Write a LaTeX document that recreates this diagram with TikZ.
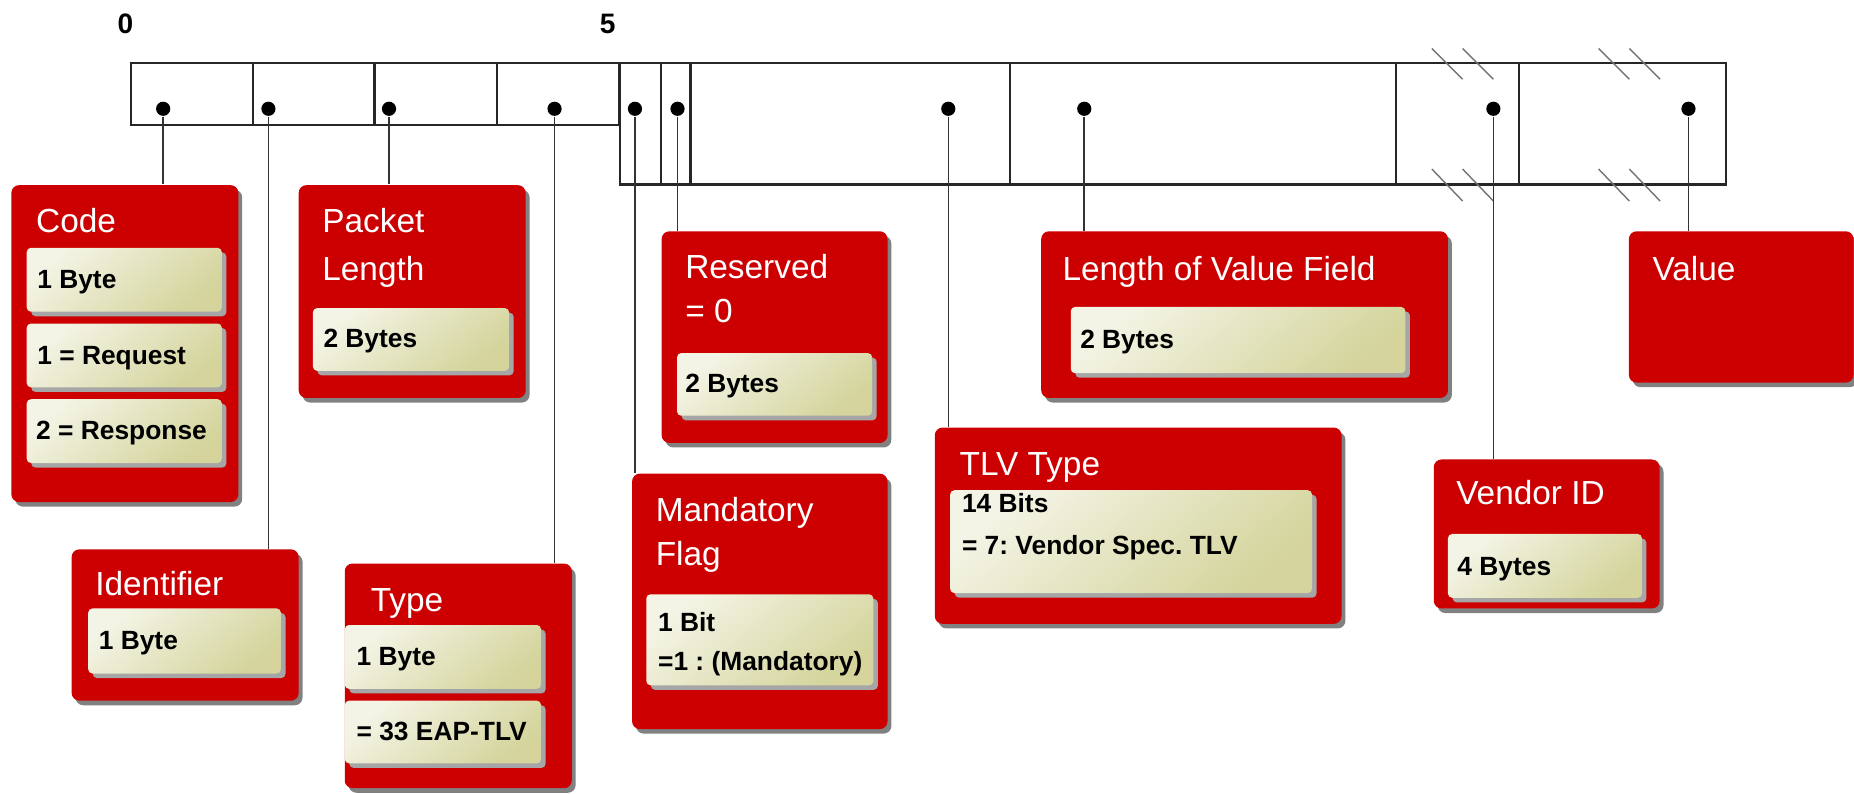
\documentclass[tikz,border=0pt]{standalone}
\usepackage{fontspec}
\setmainfont{Liberation Sans}
\usetikzlibrary{shadows}

\definecolor{fieldred}{HTML}{CC0000}
\definecolor{creamtop}{HTML}{F4F4E6}
\definecolor{creambottom}{HTML}{D4D49C}
\newcommand{\pxu}{0.011824cm}

\begin{document}
\begin{tikzpicture}[x=\pxu, y=-\pxu,
  field/.style={fill=fieldred, rounded corners=2.2pt, inner sep=0pt, anchor=north west,
    drop shadow={shadow xshift=1.1pt, shadow yshift=-1.3pt, fill=black!70, opacity=0.7}},
  cell/.style={top color=creamtop, bottom color=creambottom, shading angle=40,
    rounded corners=1.2pt, inner sep=0pt, anchor=north west,
    drop shadow={shadow xshift=1.3pt, shadow yshift=-1.3pt, fill=black!35, opacity=1}},
  dims/.style 2 args={minimum width=#1*\pxu, minimum height=#2*\pxu},
  title/.style={anchor=base west, inner sep=0pt, text=white, align=left,
    font=\fontsize{9.5}{12.5}\selectfont},
  entry/.style={anchor=base west, inner sep=0pt, align=left,
    font=\frenchspacing\bfseries\fontsize{7.5}{11}\selectfont},
  dot/.style={circle, fill=black, inner sep=0pt, minimum size=12*\pxu},
  frame/.style={draw=black!85, line width=0.6pt},
  link/.style={draw=black!80, line width=0.45pt},
  hatch/.style={draw=black!55, line width=0.4pt},
  bitno/.style={font=\bfseries\fontsize{8}{10}\selectfont, inner sep=0pt}]
\useasboundingbox (0,0) rectangle (1568,671);

%bit numbers
\node[bitno] (bit0) at (106,20) {0};
\node[bitno] (bit5) at (514,20) {5};

%header
\draw[frame] (111,53) rectangle (524,106);
\draw[frame] (214,53) -- (214,106);
\draw[frame, line width=0.9pt] (317,53) -- (317,106);
\draw[frame] (420,53) -- (420,106);
%tlv
\draw[frame] (524,53) rectangle (1460,156);
\draw[frame, line width=0.9pt] (524,53) -- (524,106);
\foreach \x in {559,584,854,1181,1285}
  \draw[frame] (\x,53) -- (\x,156);
%cut marks
\foreach \x in {1211,1237,1352,1378}{
  \draw[hatch] (\x,41) -- ++(26,26);
  \draw[hatch] (\x,143) -- ++(26,27);
}

%field points
\node[dot] (d-code) at (138,92) {};
\node[dot] (d-ident) at (227,92) {};
\node[dot] (d-plen) at (329,92) {};
\node[dot] (d-type) at (469,92) {};
\node[dot] (d-mflag) at (537,92) {};
\node[dot] (d-resv) at (573,92) {};
\node[dot] (d-tlv) at (802,92) {};
\node[dot] (d-lvf) at (917,92) {};
\node[dot] (d-vendor) at (1263,92) {};
\node[dot] (d-value) at (1428,92) {};

%code
\node[field, dims={192}{268}] (code) at (9,156) {};
\node[title] (code-t) at (30,197) {Code};
\node[cell, dims={165}{54}] (code-c1) at (22,209) {};
\node[cell, dims={165}{54}] (code-c2) at (22,273) {};
\node[cell, dims={165}{54}] (code-c3) at (22,337) {};
\node[entry] (code-e1) at (31,244) {1 Byte};
\node[entry] (code-e2) at (31,308) {1 = Request};
\node[entry] (code-e3) at (30,372) {2 = Response};

%packet length (base = last line)
\node[field, dims={192}{180}] (plen) at (252,156) {};
\node[title] (plen-t) at (272,237) {Packet\\[1pt]Length};
\node[cell, dims={166}{53}] (plen-c1) at (264,260) {};
\node[entry] (plen-e1) at (273,294) {2 Bytes};

%identifier
\node[field, dims={192}{128}] (ident) at (60,464) {};
\node[title] (ident-t) at (80,504) {Identifier};
\node[cell, dims={163}{55}] (ident-c1) at (74,514) {};
\node[entry] (ident-e1) at (83,549) {1 Byte};

%type
\node[field, dims={192}{190}] (type) at (291,476) {};
\node[title] (type-t) at (313,517) {Type};
\node[cell, dims={166}{54}] (type-c1) at (291,528) {};
\node[cell, dims={166}{53}] (type-c2) at (291,592) {};
\node[entry] (type-e1) at (301,563) {1 Byte};
\node[entry] (type-e2) at (301,626) {= 33 EAP-TLV};

%reserved
\node[field, dims={191}{179}] (resv) at (559,195) {};
\node[title] (resv-t) at (579,273) {Reserved\\= 0};
\node[cell, dims={165}{53}] (resv-c1) at (572,298) {};
\node[entry] (resv-e1) at (579,332) {2 Bytes};

%mandatory flag
\node[field, dims={216}{216}] (mflag) at (534,400) {};
\node[title] (mflag-t) at (554,478) {Mandatory\\Flag};
\node[cell, dims={192}{77}] (mflag-c1) at (546,502) {};
\node[entry] (mflag-e1) at (556,567) {1 Bit\\=1 : (Mandatory)};

%tlv type
\node[field, dims={344}{166}] (tlv) at (790,361) {};
\node[title] (tlv-t) at (811,402) {TLV Type};
\node[cell, dims={306}{87}] (tlv-c1) at (803,414) {};
\node[entry] (tlv-e1) at (813,469) {14 Bits\\[1pt]= 7: Vendor Spec. TLV};

%length of value field
\node[field, dims={344}{141}] (lvf) at (880,195) {};
\node[title] (lvf-t) at (898,237) {Length of Value Field};
\node[cell, dims={283}{56}] (lvf-c1) at (905,259) {};
\node[entry] (lvf-e1) at (913,295) {2 Bytes};

%vendor id
\node[field, dims={191}{126}] (vendor) at (1212,388) {};
\node[title] (vendor-t) at (1231,427) {Vendor ID};
\node[cell, dims={164}{54}] (vendor-c1) at (1224,451) {};
\node[entry] (vendor-e1) at (1232,487) {4 Bytes};

%value
\node[field, dims={190}{128}] (value) at (1377,195) {};
\node[title] (value-t) at (1397,237) {Value};

%links
\draw[link] (d-code) -- (d-code |- code.north);
\draw[link] (d-ident) -- (d-ident |- ident.north);
\draw[link] (d-plen) -- (d-plen |- plen.north);
\draw[link] (d-type) -- (d-type |- type.north);
\draw[link] (d-mflag) -- (d-mflag |- mflag.north);
\draw[link] (d-resv) -- (d-resv |- resv.north);
\draw[link] (d-tlv) -- (d-tlv |- tlv.north);
\draw[link] (d-lvf) -- (d-lvf |- lvf.north);
\draw[link] (d-vendor) -- (d-vendor |- vendor.north);
\draw[link] (d-value) -- (d-value |- value.north);

\end{tikzpicture}
\end{document}
